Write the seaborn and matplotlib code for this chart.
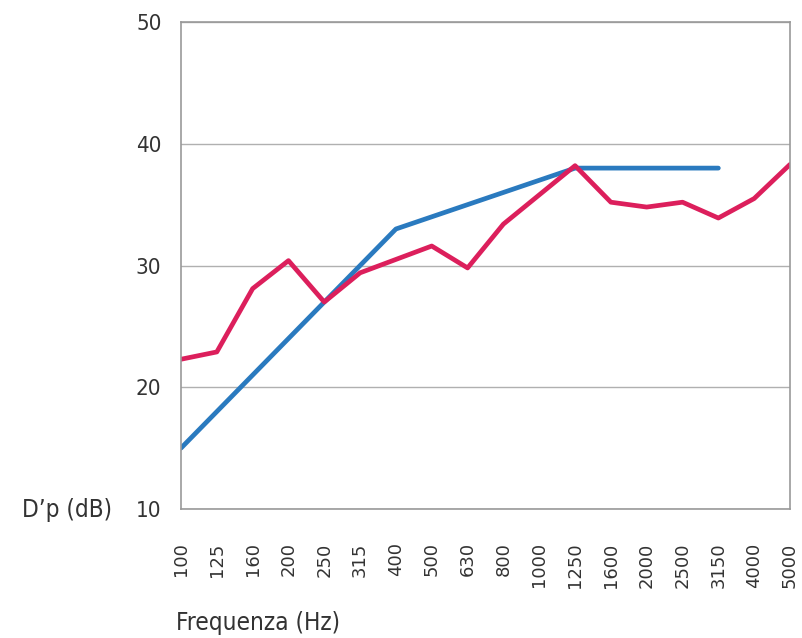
import matplotlib
matplotlib.use("Agg")
import matplotlib.pyplot as plt
import numpy as np
import pandas as pd
import seaborn as sns

freqs = ["100", "125", "160", "200", "250", "315", "400", "500", "630",
         "800", "1000", "1250", "1600", "2000", "2500", "3150", "4000", "5000"]
measured = [22.3, 22.9, 28.1, 30.4, 27.0, 29.4, 30.5, 31.6, 29.8,
            33.4, 35.8, 38.2, 35.2, 34.8, 35.2, 33.9, 35.5, 38.3]
reference = [15, 18, 21, 24, 27, 30, 33, 34, 35,
             36, 37, 38, 38, 38, 38, 38, np.nan, np.nan]

sns.set_style("white")

df = pd.DataFrame({
    "idx": list(range(len(freqs))) * 2,
    "val": measured + reference,
    "serie": ["misurato"] * len(freqs) + ["riferimento"] * len(freqs),
})
df = df.dropna()

fig = plt.figure(figsize=(8.03, 6.38), dpi=100)
ax = fig.add_axes([0.2254, 0.2022, 0.7584, 0.7633])

sns.lineplot(data=df, x="idx", y="val", hue="serie",
             palette={"misurato": "#dc1f5c", "riferimento": "#2a7abf"},
             hue_order=["riferimento", "misurato"],
             linewidth=3.4, legend=False, ax=ax)

ax.set_xlim(0, len(freqs) - 1)
ax.set_ylim(10, 50)
ax.set_yticks([10, 20, 30, 40, 50])
ax.set_xticks(range(len(freqs)))
ax.set_xticklabels(freqs, rotation=90, fontsize=13, family="DejaVu Sans",
                   color="#333333", va="top")
ax.set_yticklabels(["10", "20", "30", "40", "50"], fontsize=16,
                   family="DejaVu Sans", stretch="condensed", color="#333333")
ax.tick_params(axis="x", length=0, pad=24)
ax.tick_params(axis="y", length=0, pad=14)
ax.set_xlabel("")
ax.set_ylabel("")
ax.grid(axis="y", color="#b0b0b0", linewidth=1)
ax.set_axisbelow(True)
for s in ax.spines.values():
    s.set_color("#999999")
    s.set_linewidth(1.2)

fig.text(0.1395, 1 - 510 / 638, "D\u2019p (dB)", fontsize=17.5,
         family="DejaVu Sans", stretch="condensed",
         color="#333333", ha="right", va="center")
fig.text(176 / 803, 1 - 623 / 638, "Frequenza (Hz)", fontsize=17.5,
         family="DejaVu Sans", stretch="condensed",
         color="#333333", ha="left", va="center")

fig.savefig("out.png", dpi=100)
